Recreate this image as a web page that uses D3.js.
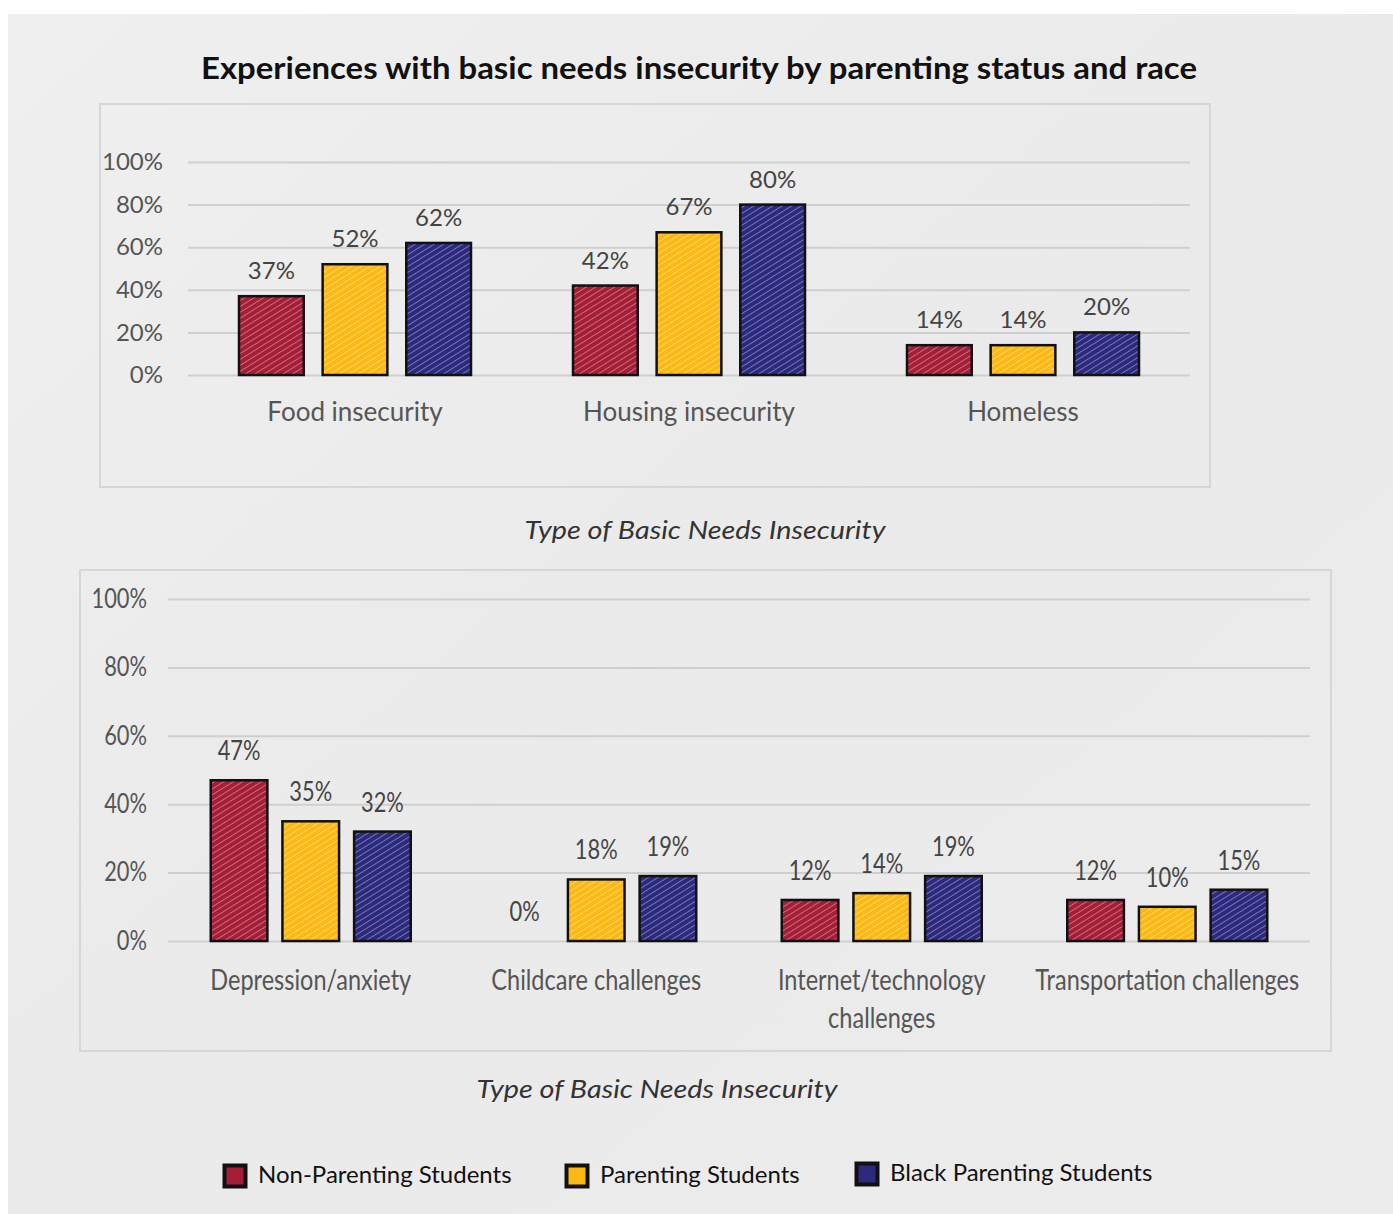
<!DOCTYPE html>
<html>
<head>
<meta charset="utf-8">
<script src="https://cdn.jsdelivr.net/npm/d3@7"></script>
<style>
  html, body { margin: 0; padding: 0; background: #ffffff; }
  svg { display: block; }
  text { font-family: Lato, "Open Sans", sans-serif; }
</style>
</head>
<body>
<svg id="chart" width="1393" height="1214"></svg>
<script>
// ---------- DATA ----------
const seriesNames = ["Non-Parenting Students", "Parenting Students", "Black Parenting Students"];
const seriesColors = ["#a51d37", "#fdb913", "#2b2a7f"];

const categoriesTop = ["Food insecurity", "Housing insecurity", "Homeless"];
const nonParentingTop = [37, 42, 14];
const parentingTop = [52, 67, 14];
const blackParentingTop = [62, 80, 20];

const categoriesBottom = ["Depression/anxiety", "Childcare challenges", "Internet/technology challenges", "Transportation challenges"];
const nonParentingBottom = [47, 0, 12, 12];
const parentingBottom = [35, 18, 14, 10];
const blackParentingBottom = [32, 19, 19, 15];

const yTickValues = [0, 20, 40, 60, 80, 100];
const titleText = "Experiences with basic needs insecurity by parenting status and race";
const axisTitleText = "Type of Basic Needs Insecurity";

// ---------- SETUP ----------
const svg = d3.select("#chart");
const defs = svg.append("defs");

// paper background
const bgGrad = defs.append("linearGradient").attr("id", "paper").attr("x1", 0).attr("y1", 0).attr("x2", 1).attr("y2", 1);
bgGrad.append("stop").attr("offset", "0%").attr("stop-color", "#efefef");
bgGrad.append("stop").attr("offset", "50%").attr("stop-color", "#eaeaea");
bgGrad.append("stop").attr("offset", "100%").attr("stop-color", "#ececec");
svg.append("rect").attr("x", 8).attr("y", 14).attr("width", 1385).attr("height", 1200).attr("fill", "url(#paper)");

// hatch patterns
seriesColors.forEach((c, i) => {
  const p = defs.append("pattern").attr("id", "hatch" + i)
    .attr("patternUnits", "userSpaceOnUse").attr("width", 5).attr("height", 5)
    .attr("patternTransform", "rotate(-32)");
  p.append("rect").attr("width", 5).attr("height", 5).attr("fill", c);
  p.append("line").attr("x1", 0).attr("y1", 2.5).attr("x2", 5).attr("y2", 2.5)
    .attr("stroke", "#ffffff").attr("stroke-width", 0.9).attr("stroke-opacity", 0.4);
});

// title
svg.append("text").attr("x", 699).attr("y", 79).attr("text-anchor", "middle")
  .attr("font-size", 31).attr("font-weight", 700).attr("fill", "#111")
  .attr("textLength", 996).attr("lengthAdjust", "spacingAndGlyphs")
  .text(titleText);

function drawChart(cfg) {
  const { categories, values, x0, x1, y0, y1, panel, groupWidth, padInner,
          tickOffset, tickSize, catSize, catY, catLine, valSize, valGap, condense, axisTitle } = cfg;

  svg.append("rect").attr("x", panel[0]).attr("y", panel[1]).attr("width", panel[2]).attr("height", panel[3])
    .attr("fill", "none").attr("stroke", "#d6d6d6").attr("stroke-width", 2);

  const x = d3.scaleBand().domain(categories).range([x0, x1]).padding(0);
  const xs = d3.scaleBand().domain(seriesNames)
    .range([(x.bandwidth() - groupWidth) / 2, (x.bandwidth() + groupWidth) / 2])
    .paddingInner(padInner).paddingOuter(0);
  const y = d3.scaleLinear().domain([0, 100]).range([y0, y1]);

  const g = svg.append("g");

  // gridlines
  const grid = g.append("g").attr("transform", `translate(${x0},0)`)
    .call(d3.axisLeft(y).tickValues(yTickValues).tickSize(-(x1 - x0)).tickFormat(""));
  grid.select(".domain").remove();
  grid.selectAll(".tick line").attr("stroke", "#cfcfcf").attr("stroke-width", 2);

  // tick labels
  const ax = g.append("g").attr("transform", `translate(${x0 - tickOffset},0)`)
    .call(d3.axisLeft(y).tickValues(yTickValues).tickSize(0).tickPadding(0).tickFormat(d => d + "%"));
  ax.select(".domain").remove();
  ax.selectAll("text").attr("font-size", tickSize).attr("fill", "#555")
    .attr("font-family", "Lato, sans-serif")
    .attr("transform", condense ? `scale(${condense},1)` : null);

  // bars
  const rows = categories.map((c, i) => ({ cat: c, vals: values.map(v => v[i]) }));
  const grp = g.selectAll(".grp").data(rows).join("g")
    .attr("transform", d => `translate(${x(d.cat)},0)`);

  grp.selectAll("rect").data(d => d.vals.map((v, k) => ({ v, k })).filter(e => e.v > 0)).join("rect")
    .attr("x", e => xs(seriesNames[e.k])).attr("width", xs.bandwidth())
    .attr("y", e => y(e.v)).attr("height", e => y(0) - y(e.v))
    .attr("fill", e => "url(#hatch" + e.k + ")")
    .attr("stroke", "#111").attr("stroke-width", 2.5);

  grp.selectAll("text.val").data(d => d.vals.map((v, k) => ({ v, k }))).join("text")
    .attr("class", "val")
    .attr("transform", e => `translate(${xs(seriesNames[e.k]) + xs.bandwidth() / 2},${y(e.v) - valGap})` + (condense ? ` scale(${condense},1)` : ""))
    .attr("text-anchor", "middle").attr("font-size", valSize).attr("fill", "#444")
    .text(e => e.v + "%");

  // category labels
  grp.each(function(d) {
    const t = d3.select(this).append("text")
      .attr("transform", `translate(${x.bandwidth() / 2},${catY})` + (condense ? ` scale(${condense},1)` : ""))
      .attr("text-anchor", "middle").attr("font-size", catSize).attr("fill", "#555");
    const words = d.cat === "Internet/technology challenges" ? ["Internet/technology", "challenges"] : [d.cat];
    words.forEach((w, i) => t.append("tspan").attr("x", 0).attr("dy", i === 0 ? 0 : catLine).text(w));
  });

  // axis title
  svg.append("text").attr("x", axisTitle[0]).attr("y", axisTitle[1]).attr("text-anchor", "middle")
    .attr("font-size", 26).attr("font-style", "italic").attr("fill", "#333")
    .attr("textLength", 361).attr("lengthAdjust", "spacingAndGlyphs")
    .text(axisTitleText);
}

drawChart({
  categories: categoriesTop,
  values: [nonParentingTop, parentingTop, blackParentingTop],
  x0: 188, x1: 1190, y0: 375, y1: 162,
  panel: [100, 104, 1110, 383],
  groupWidth: 232, padInner: 0.226,
  tickOffset: 25, tickSize: 24, catSize: 26, catY: 421, catLine: 38, valSize: 24, valGap: 17,
  condense: null,
  axisTitle: [705, 539]
});

drawChart({
  categories: categoriesBottom,
  values: [nonParentingBottom, parentingBottom, blackParentingBottom],
  x0: 168, x1: 1310, y0: 941, y1: 599,
  panel: [80, 570, 1251, 481],
  groupWidth: 200, padInner: 0.21,
  tickOffset: 21, tickSize: 26, catSize: 28, catY: 990, catLine: 38, valSize: 26, valGap: 20,
  condense: 0.84,
  axisTitle: [657, 1098]
});

// legend
const legendX = [223, 565, 855];
const leg = svg.append("g").selectAll("g").data(seriesNames).join("g")
  .attr("transform", (d, i) => `translate(${legendX[i]},${i === 2 ? 1162 : 1164})`);
leg.append("rect").attr("x", 1.5).attr("y", 1.5).attr("width", 21).attr("height", 21)
  .attr("fill", (d, i) => seriesColors[i]).attr("stroke", "#111").attr("stroke-width", 4);
leg.append("text").attr("x", 35).attr("y", 19).attr("font-size", 24).attr("fill", "#111")
  .text(d => d);
</script>
</body>
</html>
